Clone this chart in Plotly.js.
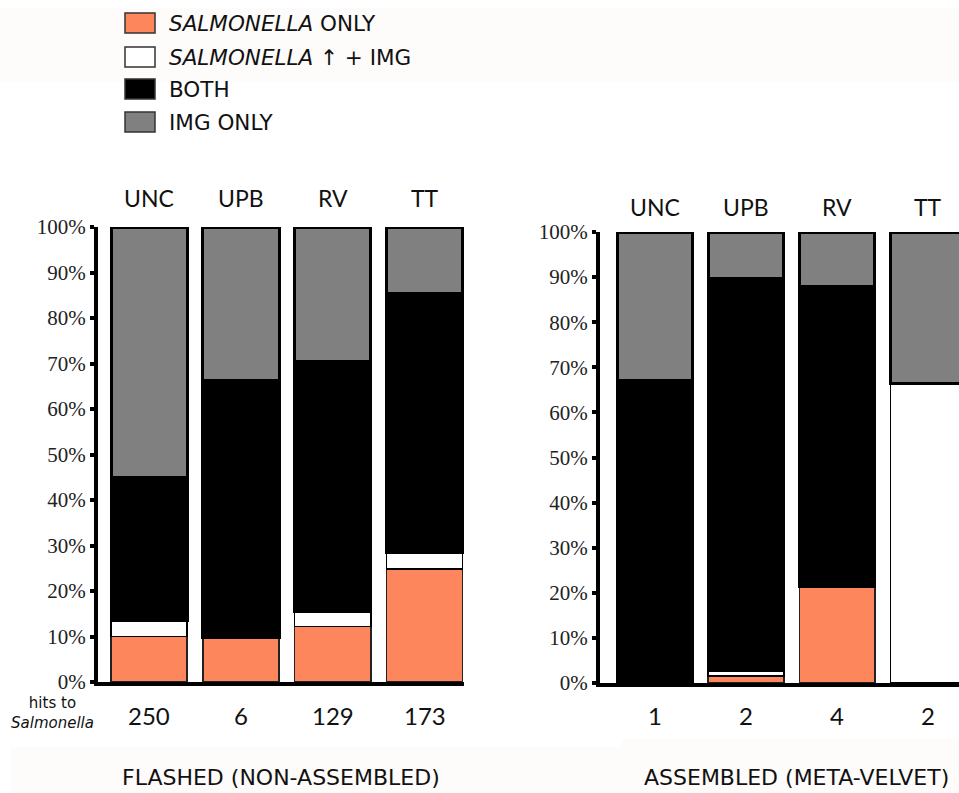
<!DOCTYPE html>
<html>
<head>
<meta charset="utf-8">
<script src="https://cdn.plot.ly/plotly-3.0.1.min.js"></script>
<style>html,body{margin:0;padding:0;background:#fff;}#chart{width:959px;height:793px;}</style>
</head>
<body>
<div id="chart"></div>
<script>
// ---- data ----
const categories = ["UNC", "UPB", "RV", "TT"];
const seriesNames = ["<i>SALMONELLA</i> ONLY", "<i>SALMONELLA</i> \u2191 + IMG", "BOTH", "IMG ONLY"];

// FLASHED (NON-ASSEMBLED), percent of hits
const flashedSalmOnly = [10.0, 9.8, 12.2, 24.8];
const flashedSalmImg  = [3.5, 0.0, 3.3, 3.6];
const flashedBoth     = [31.4, 56.4, 54.9, 57.0];
const flashedImgOnly  = [55.1, 33.8, 29.6, 14.6];
const flashedHits     = ["250", "6", "129", "173"];

// ASSEMBLED (META-VELVET), percent of hits
const assembledSalmOnly = [0.0, 1.5, 21.3, 0.0];
const assembledSalmImg  = [0.0, 1.2, 0.0, 66.5];
const assembledBoth     = [67.0, 87.0, 66.7, 0.0];
const assembledImgOnly  = [33.0, 10.3, 12.0, 33.5];
const assembledHits     = ["1", "2", "4", "2"];

const yTickVals = [0, 10, 20, 30, 40, 50, 60, 70, 80, 90, 100];
const yTickText = ["0%", "10%", "20%", "30%", "40%", "50%", "60%", "70%", "80%", "90%", "100%"];
const panelTitles = ["FLASHED (NON-ASSEMBLED)", "ASSEMBLED (META-VELVET)"];

// ---- styles ----
const colors = ["#FD865D", "#FFFFFF", "#000000", "#808080"];
const lineW = [1.5, 1.5, 3, 3];
const lineC = ["#222222", "#000000", "#000000", "#000000"];
const W = 959, H = 793;
const px = v => v / W;
const py = v => 1 - v / H;
const xIdx = categories.map((c, i) => i);

function traces(vals, xa, ya) {
  return vals.map((v, k) => ({
    type: "bar", x: xIdx, y: v, name: seriesNames[k],
    xaxis: xa, yaxis: ya, width: 0.83, showlegend: false,
    marker: {color: colors[k], line: {color: lineC[k], width: lineW[k]}},
    hoverinfo: "skip"
  }));
}

const data = [
  ...traces([flashedSalmOnly, flashedSalmImg, flashedBoth, flashedImgOnly], "x", "y"),
  ...traces([assembledSalmOnly, assembledSalmImg, assembledBoth, assembledImgOnly], "x2", "y2")
];

const sans = "Lato, 'DejaVu Sans', sans-serif";
const wide = "'DejaVu Sans', Lato, sans-serif";
const serif = "'Liberation Serif', 'DejaVu Serif', serif";

const yAxisBase = {
  range: [0, 100], tickmode: "array", tickvals: yTickVals, ticktext: yTickText,
  showgrid: false, zeroline: false, showline: true, linecolor: "#000", linewidth: 4,
  ticks: "outside", ticklen: 4, tickwidth: 4, tickcolor: "#000",
  tickfont: {family: serif, size: 21, color: "#222"}, fixedrange: true
};
const xAxisBase = {
  showgrid: false, zeroline: false, showline: true, linecolor: "#000", linewidth: 4,
  showticklabels: false, ticks: "", fixedrange: true
};

const annotations = [];
// category labels above bars and hit counts below
[[categories, flashedHits, "x", 198], [categories, assembledHits, "x2", 207]].forEach(([cats, hits, xr, topY]) => {
  cats.forEach((c, i) => {
    annotations.push({x: i, xref: xr, y: py(topY), yref: "paper", text: c, showarrow: false,
      font: {family: sans, size: 23, color: "#111"}, xanchor: "center", yanchor: "middle"});
    annotations.push({x: i, xref: xr, y: py(715), yref: "paper", text: hits[i], showarrow: false,
      font: {family: sans, size: 24, color: "#111"}, xanchor: "center", yanchor: "middle"});
  });
});
annotations.push({x: px(52), y: py(713), xref: "paper", yref: "paper", showarrow: false,
  text: "hits to<br><i>Salmonella</i>", font: {family: wide, size: 15, color: "#111"},
  align: "center", xanchor: "center", yanchor: "middle"});
annotations.push({x: px(281), y: py(777), xref: "paper", yref: "paper", showarrow: false,
  text: panelTitles[0], font: {family: wide, size: 22, color: "#111"}, xanchor: "center", yanchor: "middle"});
annotations.push({x: px(796), y: py(777), xref: "paper", yref: "paper", showarrow: false,
  text: panelTitles[1], font: {family: wide, size: 22, color: "#111"}, xanchor: "center", yanchor: "middle"});

// manual legend
const legendRows = [23, 57, 89, 122];
const shapes = [
  {type: "rect", xref: "paper", yref: "paper", x0: 0, x1: 1, y0: py(82), y1: py(8),
   fillcolor: "#fefbfb", line: {width: 0}, layer: "below"},
  {type: "rect", xref: "paper", yref: "paper", x0: px(10), x1: px(622), y0: 0, y1: py(747),
   fillcolor: "#fefbfb", line: {width: 0}, layer: "below"},
  {type: "rect", xref: "paper", yref: "paper", x0: px(622), x1: 1, y0: 0, y1: py(739),
   fillcolor: "#fefbfb", line: {width: 0}, layer: "below"}
];
legendRows.forEach((yc, k) => {
  shapes.push({type: "rect", xref: "paper", yref: "paper", x0: px(125), x1: px(155),
    y0: py(yc + 10), y1: py(yc - 10), fillcolor: colors[k],
    line: {color: "#333", width: 1.5}});
  annotations.push({x: px(167), y: py(yc + 1), xref: "paper", yref: "paper", showarrow: false,
    text: seriesNames[k], font: {family: wide, size: 21.5, color: "#111"},
    xanchor: "left", yanchor: "middle"});
});

const layout = {
  width: W, height: H, margin: {l: 0, r: 0, t: 0, b: 0},
  paper_bgcolor: "#fff", plot_bgcolor: "rgba(0,0,0,0)",
  barmode: "stack", bargap: 0, showlegend: false,
  xaxis: {...xAxisBase, domain: [px(98), px(464)], range: [-0.557, 3.43]},
  yaxis: {...yAxisBase, domain: [py(682), py(227)], anchor: "x"},
  xaxis2: {...xAxisBase, domain: [px(600), 1], range: [-0.604, 3.34], anchor: "y2"},
  yaxis2: {...yAxisBase, domain: [py(683), py(232)], anchor: "x2"},
  annotations: annotations, shapes: shapes
};

Plotly.newPlot("chart", data, layout, {displayModeBar: false, staticPlot: true});
</script>
</body>
</html>
